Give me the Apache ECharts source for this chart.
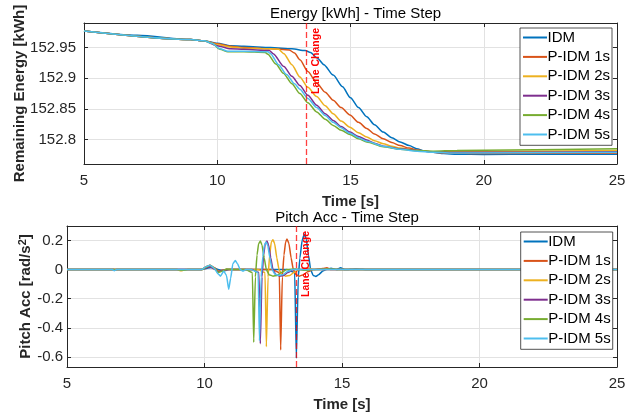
<!DOCTYPE html>
<html>
<head>
<meta charset="utf-8">
<script src="https://cdn.jsdelivr.net/npm/echarts@6/dist/echarts.min.js"></script>
<style>
html,body{margin:0;padding:0;background:#fff;}
#c{width:637px;height:415px;}
</style>
</head>
<body>
<div id="c"></div>
<script>
// ---------- DATA ----------
const seriesNames = ['IDM', 'P-IDM 1s', 'P-IDM 2s', 'P-IDM 3s', 'P-IDM 4s', 'P-IDM 5s'];
const xTicks = [5, 10, 15, 20, 25];
const laneChangeTime = 13.33;

// Remaining energy [kWh] vs time [s]
const energyIDM = [[5,152.977],[7,152.970],[9,152.963],[9.5,152.961],[10,152.957],[10.5,152.953],[11,152.952],[12,152.950],[12.8,152.948],[13.3,152.945],[13.5,152.942],[13.75,152.933],[14,152.922],[14.35,152.905],[14.7,152.886],[15,152.868],[15.3,152.852],[15.61,152.837],[15.9,152.824],[16.23,152.812],[16.55,152.803],[16.86,152.796],[17.2,152.790],[17.48,152.785],[17.8,152.781],[18.1,152.779],[18.5,152.777],[19,152.776],[20,152.7755],[22,152.776],[25,152.776]];
const energyP1 = [[5,152.977],[9,152.963],[9.5,152.961],[10,152.956],[10.5,152.952],[11,152.950],[12,152.948],[12.7,152.946],[12.9,152.941],[13.1,152.930],[13.4,152.911],[13.73,152.892],[14.05,152.877],[14.35,152.864],[14.65,152.852],[14.98,152.840],[15.3,152.828],[15.61,152.818],[15.9,152.809],[16.23,152.801],[16.55,152.795],[16.86,152.790],[17.2,152.786],[17.48,152.783],[18.1,152.779],[18.6,152.778],[20,152.777],[25,152.778]];
const energyP2 = [[5,152.977],[9,152.963],[9.5,152.961],[10,152.955],[10.5,152.951],[11,152.949],[12,152.948],[12.3,152.947],[12.5,152.940],[12.8,152.922],[13.1,152.902],[13.4,152.885],[13.73,152.870],[14.05,152.855],[14.35,152.842],[14.65,152.830],[14.98,152.820],[15.3,152.811],[15.61,152.804],[15.9,152.798],[16.23,152.793],[16.55,152.789],[16.86,152.786],[17.48,152.782],[18.1,152.780],[19,152.780],[25,152.782]];
const energyP3 = [[5,152.977],[9,152.963],[9.5,152.961],[10,152.953],[10.5,152.948],[11,152.947],[11.95,152.945],[12.1,152.940],[12.5,152.919],[12.8,152.903],[13.1,152.888],[13.4,152.872],[13.73,152.856],[14.05,152.842],[14.35,152.831],[14.65,152.821],[14.98,152.812],[15.3,152.805],[15.61,152.799],[15.9,152.794],[16.23,152.789],[16.86,152.785],[17.5,152.782],[18.1,152.780],[19,152.779],[25,152.780]];
const energyP4 = [[5,152.977],[9,152.963],[9.5,152.961],[9.8,152.957],[10.1,152.947],[10.4,152.943],[11,152.943],[11.8,152.942],[11.9,152.939],[12.2,152.923],[12.48,152.908],[12.8,152.891],[13.1,152.875],[13.4,152.860],[13.73,152.845],[14.05,152.833],[14.35,152.823],[14.65,152.815],[14.98,152.808],[15.3,152.801],[15.61,152.796],[16.23,152.788],[16.86,152.784],[17.5,152.782],[18.1,152.781],[19,152.782],[21,152.783],[25,152.785]];
const energyP5 = [[5,152.977],[9,152.963],[9.5,152.961],[9.8,152.957],[10.1,152.948],[10.4,152.944],[11,152.944],[11.9,152.943],[12.0,152.940],[12.3,152.922],[12.6,152.906],[12.9,152.891],[13.1,152.882],[13.4,152.867],[13.73,152.852],[14.05,152.839],[14.35,152.828],[14.65,152.819],[14.98,152.810],[15.3,152.803],[15.61,152.797],[16.23,152.789],[16.86,152.784],[17.5,152.781],[18.1,152.779],[19,152.778],[25,152.779]];

// Pitch acceleration [rad/s^2] vs time [s]
const pitchIDM = [[5,0],[6.7,0],[6.75,-0.005],[6.8,0],[9.9,0],[10.1,0.01],[10.3,0.015],[10.5,0],[10.7,-0.01],[10.9,0],[13.0,0],[13.28,-0.02],[13.34,-0.61],[13.41,-0.05],[13.47,0.08],[13.55,0.2],[13.63,0.245],[13.7,0.21],[13.78,0.1],[13.86,0.0],[13.95,-0.04],[14.05,-0.047],[14.15,-0.035],[14.3,-0.01],[14.45,0.003],[14.6,0.01],[14.8,0],[14.95,0.012],[15.1,0],[15.5,0.004],[16,0],[25,0]];
const pitchP1 = [[5,0],[9.9,0],[10.05,0.02],[10.2,0.03],[10.35,0.015],[10.5,-0.01],[10.65,-0.005],[10.8,0],[12.47,0],[12.72,-0.02],[12.77,-0.553],[12.83,-0.05],[12.89,0.10],[12.95,0.19],[13.0,0.21],[13.07,0.18],[13.15,0.08],[13.23,0.0],[13.33,-0.035],[13.45,-0.045],[13.6,-0.035],[13.75,-0.015],[13.95,0],[14.3,0.008],[14.45,0.012],[14.6,0],[25,0]];
const pitchP2 = [[5,0],[9.0,0],[9.15,-0.008],[9.3,0],[9.9,0],[10.05,0.015],[10.2,0.025],[10.35,0.01],[10.5,-0.015],[10.65,-0.005],[10.8,0],[11.95,0],[12.2,-0.02],[12.25,-0.53],[12.31,-0.05],[12.37,0.10],[12.43,0.19],[12.49,0.205],[12.55,0.18],[12.63,0.08],[12.71,0.0],[12.81,-0.035],[12.95,-0.045],[13.1,-0.04],[13.25,-0.02],[13.45,0],[13.8,0.01],[14,0],[25,0]];
const pitchP3 = [[5,0],[9.9,0],[10.05,0.01],[10.2,0.02],[10.35,0.005],[10.5,-0.015],[10.65,-0.005],[10.8,0],[11.73,0],[11.98,-0.02],[12.03,-0.51],[12.09,-0.05],[12.15,0.10],[12.21,0.18],[12.27,0.196],[12.33,0.17],[12.41,0.08],[12.49,0.0],[12.59,-0.035],[12.73,-0.045],[12.88,-0.04],[13.03,-0.02],[13.23,0],[25,0]];
const pitchP4 = [[5,0],[9.0,0],[9.2,-0.005],[9.4,0],[9.9,0],[10.05,0.015],[10.2,0.03],[10.35,0.01],[10.5,-0.02],[10.65,-0.01],[10.8,0.005],[11.0,0],[11.49,0],[11.74,-0.02],[11.79,-0.50],[11.85,-0.05],[11.91,0.10],[11.97,0.18],[12.03,0.196],[12.09,0.17],[12.17,0.08],[12.25,0.0],[12.35,-0.035],[12.49,-0.045],[12.64,-0.04],[12.79,-0.02],[12.99,0],[13.3,0.005],[13.6,-0.005],[14,0],[14.5,0.005],[15,0],[25,0]];
const pitchP5 = [[5,0],[6.65,0],[6.72,-0.008],[6.8,0],[9.9,0],[10.05,0.02],[10.2,0.03],[10.35,0.01],[10.5,-0.03],[10.58,-0.045],[10.7,-0.01],[10.8,-0.04],[10.88,-0.135],[10.95,-0.06],[11.03,0.04],[11.12,0.062],[11.2,0.04],[11.3,0.0],[11.4,-0.01],[11.5,0],[11.7,0],[11.95,-0.02],[12.0,-0.49],[12.06,-0.05],[12.12,0.09],[12.18,0.17],[12.24,0.19],[12.3,0.165],[12.38,0.08],[12.46,0.0],[12.56,-0.03],[12.7,-0.04],[12.85,-0.035],[13.0,-0.015],[13.2,0],[25,0]];

const energyData = [energyIDM, energyP1, energyP2, energyP3, energyP4, energyP5];
const pitchData = [pitchIDM, pitchP1, pitchP2, pitchP3, pitchP4, pitchP5];

// ---------- STYLE ----------
const colors = ['#0072BD', '#D95319', '#EDB120', '#7E2F8E', '#77AC30', '#4DBEEE'];
const FONT = "'Liberation Sans', Arial, sans-serif";
const AX = '#262626';
const GRIDC = '#e2e2e2';

function xAx(gi, pos, show) {
  return {
    type: 'value', gridIndex: gi, position: pos, min: 5, max: 25, interval: 5,
    name: show ? 'Time [s]' : '', nameLocation: 'middle', nameGap: 30, nameMoveOverlap: false,
    nameTextStyle: {fontFamily: FONT, fontSize: 15, fontWeight: 'bold', color: AX},
    axisLine: {show: true, onZero: false, lineStyle: {color: AX, width: 1}},
    axisTick: {show: true, inside: true, length: 4, lineStyle: {color: AX}},
    axisLabel: {show: show, margin: 9, fontFamily: FONT, fontSize: 15, color: AX},
    splitLine: {show: show, lineStyle: {color: GRIDC, width: 1}}
  };
}
function yAx(gi, pos, show, min, max, name, gap, margin) {
  return {
    type: 'value', gridIndex: gi, position: pos, min: min, max: max, splitNumber: 5,
    name: show ? name : '', nameLocation: 'middle', nameGap: gap, nameMoveOverlap: false,
    nameTextStyle: {fontFamily: FONT, fontSize: 15, fontWeight: 'bold', color: AX,
      rich: {sup: {fontFamily: FONT, fontSize: 11, fontWeight: 'bold', color: AX, verticalAlign: 'bottom', padding: [0, 0, 7, 0]}}},
    axisLine: {show: true, onZero: false, lineStyle: {color: AX, width: 1}},
    axisTick: {show: true, inside: true, length: 4, lineStyle: {color: AX}},
    axisLabel: {show: show, margin: margin, fontFamily: FONT, fontSize: 15, color: AX, showMinLabel: false, showMaxLabel: false},
    splitLine: {show: show, lineStyle: {color: GRIDC, width: 1}}
  };
}

function laneMark() {
  return {
    silent: true, symbol: ['none', 'none'], animation: false,
    lineStyle: {color: 'rgba(255,0,0,0.75)', type: [6, 3], width: 1.3},
    label: {show: true, formatter: 'Lane Change', position: 'insideEndBottom', color: '#ff0000',
            fontFamily: FONT, fontSize: 10.5, fontWeight: 'bold', distance: 5},
    data: [{xAxis: laneChangeTime}]
  };
}

const series = [];
energyData.forEach((d, i) => {
  series.push({
    name: seriesNames[i], type: 'line', xAxisIndex: 0, yAxisIndex: 0, data: d,
    showSymbol: false, symbol: 'none', smooth: 0.25, smoothMonotone: 'x',
    lineStyle: {color: colors[i], width: 1.5}, itemStyle: {color: colors[i]},
    markLine: i === energyData.length - 1 ? laneMark() : undefined
  });
});
pitchData.forEach((d, i) => {
  series.push({
    name: seriesNames[i], type: 'line', xAxisIndex: 2, yAxisIndex: 2, data: d,
    showSymbol: false, symbol: 'none', smooth: 0.15, smoothMonotone: 'x',
    lineStyle: {color: colors[i], width: 1.5}, itemStyle: {color: colors[i]},
    markLine: i === pitchData.length - 1 ? laneMark() : undefined
  });
});

function legend(left, top) {
  return {
    data: seriesNames.map(n => ({name: n, icon: 'rect'})), orient: 'vertical', left: left, top: top,
    itemWidth: 24, itemHeight: 2, itemGap: 4.4,
    padding: [2, 2, 3.3, 3],
    backgroundColor: '#fff', borderColor: AX, borderWidth: 0.8, borderRadius: 0,
    textStyle: {fontFamily: FONT, fontSize: 15, color: '#000', padding: [0, 0, 0, -4.5]},
    selectedMode: false
  };
}

const option = {
  animation: false,
  backgroundColor: '#fff',
  color: colors,
  title: [
    {text: 'Energy [kWh] - Time Step', left: 350.5, top: 1, textAlign: 'center',
     textStyle: {fontFamily: FONT, fontSize: 15, fontWeight: 'normal', color: '#000'}},
    {text: 'Pitch Acc - Time Step', left: 342, top: 205, textAlign: 'center',
     textStyle: {fontFamily: FONT, fontSize: 15, fontWeight: 'normal', color: '#000'}}
  ],
  grid: [
    {left: 84, right: 20, top: 23, height: 141, containLabel: false},
    {left: 67, right: 20, top: 226, height: 141, containLabel: false}
  ],
  xAxis: [xAx(0, 'bottom', true), xAx(0, 'top', false), xAx(1, 'bottom', true), xAx(1, 'top', false)],
  yAxis: [
    yAx(0, 'left', true, 152.76, 152.99, 'Remaining Energy [kWh]', 57, 8),
    yAx(0, 'right', false, 152.76, 152.99, '', 0, 8),
    yAx(1, 'left', true, -0.67, 0.3, 'Pitch Acc [rad/s{sup|2}]', 32, 4),
    yAx(1, 'right', false, -0.67, 0.3, '', 0, 4)
  ],
  legend: [legend(520, 28), legend(520.7, 232)],
  series: series
};

const chart = echarts.init(document.getElementById('c'), null, {renderer: 'canvas'});
chart.setOption(option);
</script>
</body>
</html>
